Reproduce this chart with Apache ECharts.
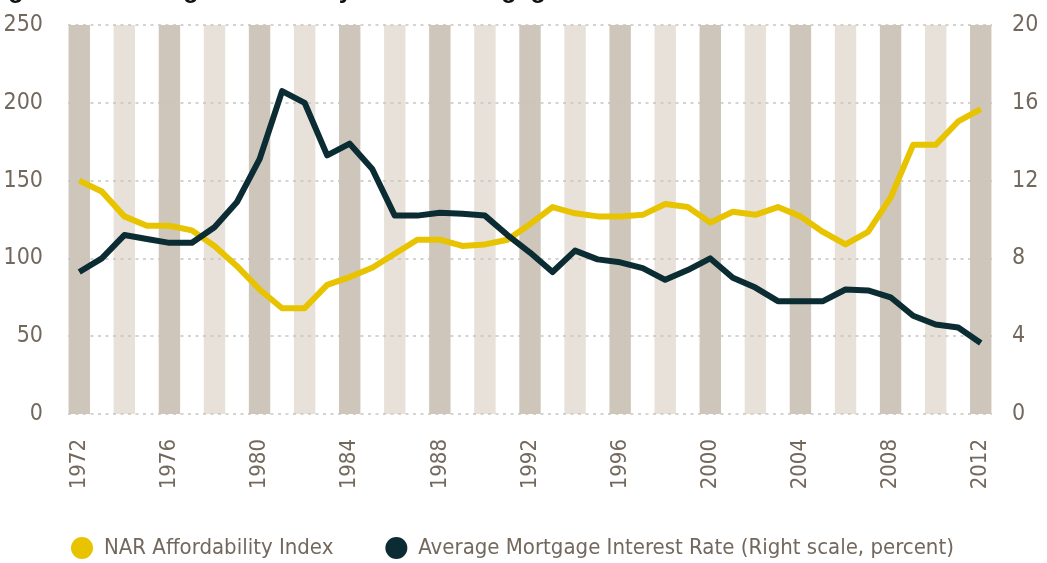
<!DOCTYPE html>
<html>
<head>
<meta charset="utf-8">
<script src="https://cdn.jsdelivr.net/npm/echarts@6/dist/echarts.min.js"></script>
<style>
  html, body { margin: 0; padding: 0; background: #fff; }
  #chart { width: 1047px; height: 563px; }
</style>
</head>
<body>
<div id="chart"></div>
<script>
const years = [
  '1972', '1973', '1974', '1975', '1976', '1977', '1978', '1979', '1980', '1981',
  '1982', '1983', '1984', '1985', '1986', '1987', '1988', '1989', '1990', '1991',
  '1992', '1993', '1994', '1995', '1996', '1997', '1998', '1999', '2000', '2001',
  '2002', '2003', '2004', '2005', '2006', '2007', '2008', '2009', '2010', '2011', '2012'
]

// NAR Affordability Index (left scale)
const affordability = [
  150, 143, 127, 121, 121, 118, 108, 95, 80, 68,
  68, 83, 88, 94, 103, 112, 112, 108, 109, 112,
  122, 133, 129, 127, 127, 128, 135, 133, 123, 130,
  128, 133, 127, 117, 109, 117, 139, 173, 173, 188, 196
]

// Average mortgage interest rate, percent (right scale)
const mortgageRate = [
  7.3, 8.0, 9.2, 9.0, 8.8, 8.8, 9.6, 10.9, 13.1, 16.6,
  16.0, 13.3, 13.9, 12.6, 10.2, 10.2, 10.35, 10.3, 10.2, 9.2,
  8.3, 7.3, 8.4, 7.95, 7.8, 7.5, 6.9, 7.4, 8.0, 7.0,
  6.5, 5.8, 5.8, 5.8, 6.4, 6.35, 6.0, 5.05, 4.6, 4.45, 3.65
]

// background stripes
const darkStripeYears = ['1972', '1976', '1980', '1984', '1988', '1992', '1996', '2000', '2004', '2008', '2012']
const lightStripeYears = ['1974', '1978', '1982', '1986', '1990', '1994', '1998', '2002', '2006', '2010']
const leftMax = 250

const font = "'Liberation Sans Narrow', 'DejaVu Sans Condensed', sans-serif"
const labelColor = '#73685d'

const chart = echarts.init(document.getElementById('chart'), null, { renderer: 'canvas' })

chart.setOption({
  animation: false,
  graphic: [
    {
      // title is cut off by the top edge, only the descenders show
      type: 'text',
      x: -14,
      y: 4,
      style: {
        text: 'Figure 2: Housing Affordability versus Mortgage Interest Rates',
        font: "bold 25px 'Liberation Sans', Arial, sans-serif",
        fill: '#111',
        verticalAlign: 'bottom'
      }
    }
  ],
  grid: { left: 68, right: 55, top: 25, bottom: 149 },
  legend: {
    data: ['NAR Affordability Index', 'Average Mortgage Interest Rate (Right scale, percent)'],
    left: 66,
    top: 532,
    icon: 'circle',
    itemWidth: 22,
    itemHeight: 22,
    itemGap: 52,
    textStyle: { fontFamily: font, fontSize: 22, fontWeight: 500, color: labelColor, padding: [0, 0, 0, 6] }
  },
  xAxis: {
    type: 'category',
    data: years,
    boundaryGap: true,
    axisLine: { show: false },
    axisTick: { show: false },
    axisLabel: {
      interval: 3,
      rotate: 90,
      margin: 25,
      fontFamily: font,
      fontSize: 22,
      color: labelColor
    }
  },
  yAxis: [
    {
      type: 'value',
      min: 0,
      max: 250,
      interval: 50,
      z: 2,
      axisLine: { show: false },
      axisTick: { show: false },
      axisLabel: { margin: 25, fontFamily: font, fontSize: 23, color: labelColor },
      splitLine: { lineStyle: { color: '#c9c4be', width: 1.5, type: [3, 4.5] } }
    },
    {
      type: 'value',
      min: 0,
      max: 20,
      interval: 4,
      position: 'right',
      axisLine: { show: false },
      axisTick: { show: false },
      axisLabel: { margin: 20, fontFamily: font, fontSize: 23, color: labelColor },
      splitLine: { show: false }
    }
  ],
  series: [
    {
      type: 'bar',
      silent: true,
      z: 1,
      barWidth: '95%',
      barGap: '-100%',
      itemStyle: { color: '#cec6bb' },
      data: years.map((y) => (darkStripeYears.includes(y) ? leftMax : '-'))
    },
    {
      type: 'bar',
      silent: true,
      z: 1,
      barWidth: '95%',
      barGap: '-100%',
      itemStyle: { color: '#e7e1da' },
      data: years.map((y) => (lightStripeYears.includes(y) ? leftMax : '-'))
    },
    {
      name: 'NAR Affordability Index',
      type: 'line',
      z: 3,
      data: affordability,
      showSymbol: false,
      lineStyle: { color: '#e8c300', width: 6, join: 'round' },
      itemStyle: { color: '#e8c300' }
    },
    {
      name: 'Average Mortgage Interest Rate (Right scale, percent)',
      type: 'line',
      yAxisIndex: 1,
      z: 4,
      data: mortgageRate,
      showSymbol: false,
      lineStyle: { color: '#0b2c33', width: 6, join: 'round' },
      itemStyle: { color: '#0b2c33' }
    }
  ]
})
</script>
</body>
</html>
